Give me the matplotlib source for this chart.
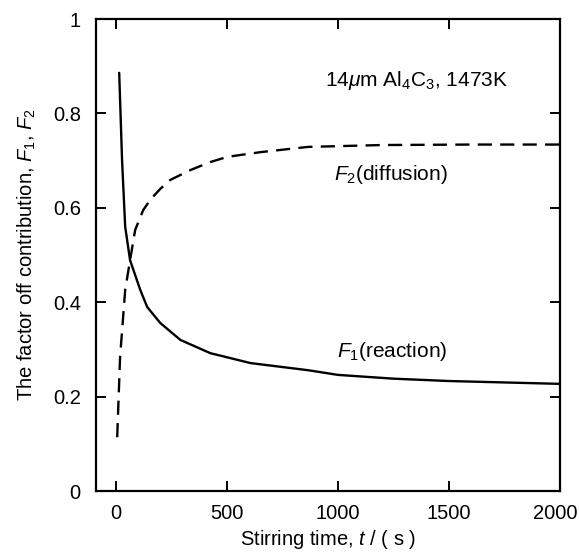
import matplotlib
matplotlib.use("Agg")
import matplotlib.pyplot as plt
import matplotlib.transforms as mtransforms

t_f1 = [14, 27, 41, 63, 109, 140, 199, 290, 425, 606, 864, 1000, 1250, 1500, 1750, 2000]
f1 = [0.886, 0.70, 0.56, 0.489, 0.426, 0.39, 0.356, 0.32, 0.292, 0.271, 0.256, 0.246, 0.238, 0.233, 0.230, 0.227]
t_f2 = [5, 18, 41, 63, 86, 122, 154, 199, 244, 335, 425, 502, 652, 864, 1200, 1600, 2000]
f2 = [0.114, 0.284, 0.426, 0.489, 0.553, 0.595, 0.617, 0.64, 0.659, 0.68, 0.697, 0.708, 0.718, 0.729, 0.733, 0.734, 0.734]
xticks = [0, 500, 1000, 1500, 2000]
yticks = [0, 0.2, 0.4, 0.6, 0.8, 1]
ytick_labels = ["0", "0.2", "0.4", "0.6", "0.8", "1"]

plt.rcParams['font.family'] = ['Liberation Sans', 'DejaVu Sans']
plt.rcParams['mathtext.fontset'] = 'custom'
plt.rcParams['mathtext.rm'] = 'Liberation Sans'
plt.rcParams['mathtext.it'] = 'Liberation Sans:italic'

fs = 14.5
fig = plt.figure(figsize=(5.79, 5.54), dpi=100)
ax = fig.add_axes([0.166, 0.1137, 0.801, 0.852])

ax.plot(t_f1, f1, color='black', lw=1.7, solid_capstyle='round')
ax.plot(t_f2, f2, color='black', lw=1.7, dashes=(6, 3.5))

ax.set_xlim(-90, 2000)
ax.set_ylim(0, 1)
ax.set_xticks(xticks)
ax.set_yticks(yticks)
ax.set_yticklabels(ytick_labels)
ax.tick_params(direction='in', length=7, width=1.4, labelsize=fs, top=True, right=True)
ax.tick_params(axis='x', pad=9)
ax.tick_params(axis='y', pad=11)
for s in ax.spines.values():
    s.set_linewidth(1.6)

# nudge the last x tick label left so it stays inside the figure
last = ax.get_xticklabels()[-1]
last.set_transform(last.get_transform() + mtransforms.ScaledTranslation(-5 / 100, 0, fig.dpi_scale_trans))

ax.set_xlabel(r"Stirring time, $\it{t}$ / ( s )", fontsize=fs, labelpad=4)
ax.set_ylabel(r"The factor off contribution, $\it{F}_{1}$, $\it{F}_{2}$", fontsize=fs, labelpad=11)

ax.text(1353, 0.87, r"14$\mu$m Al$_4$C$_3$, 1473K", fontsize=15, ha='center', va='center')
ax.text(1240, 0.67, r"$\it{F}_2$(diffusion)", fontsize=15, ha='center', va='center')
ax.text(1245, 0.295, r"$\it{F}_1$(reaction)", fontsize=15, ha='center', va='center')

fig.savefig("out.png", dpi=100)
